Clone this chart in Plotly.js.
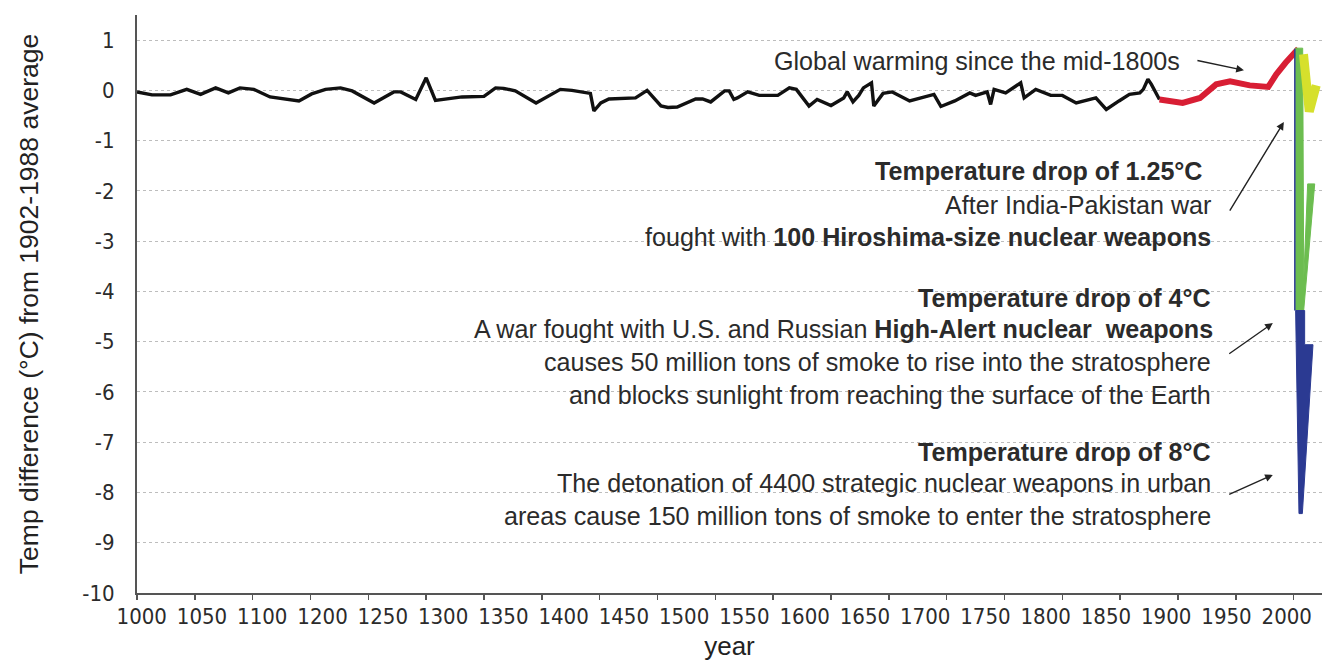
<!DOCTYPE html>
<html><head><meta charset="utf-8">
<script src="https://cdn.plot.ly/plotly-3.0.1.min.js"></script>
<style>html,body{margin:0;padding:0;background:#fff}#chart{width:1322px;height:670px}</style>
</head><body><div id="chart"></div>
<script>
// ---- data ----
const blackYears = [1000,1013,1029,1043,1055,1068,1079,1089,1101,1115,1140,1151,1163,1176,1186,1205,1222,1228,1241,1250,1258,1281,1300,1310,1317,1327,1345,1356,1366,1376,1392,1395,1401,1408,1431,1441,1453,1459,1467,1483,1489,1496,1508,1512,1516,1519,1528,1538,1554,1564,1570,1581,1588,1600,1611,1614,1619,1624,1628,1635,1637,1645,1653,1668,1689,1695,1707,1720,1725,1735,1738,1741,1751,1764,1767,1777,1790,1800,1812,1829,1838,1849,1858,1867,1870,1874,1877,1884];
const blackTemps = [-0.03,-0.09,-0.09,0.02,-0.08,0.05,-0.05,0.05,0.02,-0.13,-0.21,-0.07,0.02,0.05,-0.01,-0.25,-0.03,-0.03,-0.18,0.25,-0.2,-0.13,-0.12,0.05,0.04,-0.01,-0.25,-0.11,0.02,0.0,-0.06,-0.41,-0.25,-0.17,-0.15,0.0,-0.31,-0.34,-0.33,-0.17,-0.17,-0.23,-0.01,-0.01,-0.18,-0.15,-0.03,-0.1,-0.1,0.05,0.02,-0.31,-0.18,-0.3,-0.15,-0.03,-0.23,-0.1,0.05,0.15,-0.31,-0.06,-0.03,-0.21,-0.08,-0.32,-0.21,-0.05,-0.1,-0.03,-0.28,0.02,-0.05,0.15,-0.15,0.02,-0.1,-0.1,-0.25,-0.15,-0.38,-0.21,-0.08,-0.05,0.02,0.22,0.12,-0.18];

const redYears = [1884,1904,1919,1933,1945,1962,1978,1985,1993,2004];
const redTemps = [-0.18,-0.25,-0.15,0.12,0.18,0.1,0.07,0.32,0.55,0.83];

const yellowYears = [2008.5,2013.5,2019.5];
const yellowTemps = [0.72,-0.42,0.1];

const greenYears = [2001.7,2007.8,2008.7,2012.1,2018.2,2008.7,2001.7,2001.7];
const greenTemps = [0.84,0.84,-3.78,-1.86,-1.86,-4.37,-4.37,0.84];

const blueYears = [2001.7,2009.5,2009.5,2016.7,2007.5,2004.6,2001.7];
const blueTemps = [-4.38,-4.38,-5.06,-5.06,-8.42,-8.42,-4.38];

const blueEdgeYears = [2001,2001];
const blueEdgeTemps = [0.83,-4.38];

const xTickLabels = ['1000','1050','1100','1200','1250','1300','1350','1400','1450','1500','1550','1600','1650','1700','1750','1800','1850','1900','1950','2000'];
const xTickMarks = [1000,1050,1100,1150,1200,1250,1300,1350,1400,1450,1500,1550,1600,1650,1700,1750,1800,1850,1900,1950,2000];
const yTickVals = [-10,-9,-8,-7,-6,-5,-4,-3,-2,-1,0,1];
const yTickText = ['-10','-9','-8','-7','-6','-5','-4','-3','-2','-1','0','1'];

const noteLines = [
  'Global warming since the mid-1800s',
  '<b>Temperature drop of 1.25°C</b>',
  'After India-Pakistan war',
  'fought with <b>100 Hiroshima-size nuclear weapons</b>',
  '<b>Temperature drop of 4°C</b>',
  'A war fought with U.S. and Russian <b>High-Alert nuclear  weapons</b>',
  'causes 50 million tons of smoke to rise into the stratosphere',
  'and blocks sunlight from reaching the surface of the Earth',
  '<b>Temperature drop of 8°C</b>',
  'The detonation of 4400 strategic nuclear weapons in urban',
  'areas cause 150 million tons of smoke to enter the stratosphere'
];

// ---- layout helpers (positions / styles) ----
const labelStart = 1004.1, labelStep = 52.1;
const xLabelPos = xTickLabels.map((_, i) => labelStart + labelStep * i);
const noteX = [1903.4,1923.3,1930.2,1930.2,1930.2,1932,1930.2,1930.2,1930.2,1930.2,1930.2];
const noteY = [0.58,-1.60,-2.28,-2.92,-4.13,-4.75,-5.40,-6.06,-7.19,-7.81,-8.47];
const arrows = [
  {x:1957, y:0.40, ax:1915.5, ay:0.60},
  {x:1991.5, y:-0.63, ax:1944, ay:-2.42},
  {x:1982, y:-4.63, ax:1943, ay:-5.26},
  {x:1982, y:-7.65, ax:1943, ay:-8.05}
];

const FONT = 'Liberation Sans, Arial, sans-serif';
const NARROW = 'Liberation Sans Narrow, Arial Narrow, DejaVu Sans Condensed, Liberation Sans, sans-serif';
const TXT = '#2b2b2b';

const traces = [
  {x: blackYears, y: blackTemps, mode: 'lines', line: {color: '#111', width: 3.4}, hoverinfo: 'skip'},
  {x: redYears, y: redTemps, mode: 'lines', line: {color: '#d81e34', width: 6}, hoverinfo: 'skip'},
  {x: greenYears, y: greenTemps, mode: 'lines', fill: 'toself', fillcolor: '#6cbd50', line: {color: '#6cbd50', width: 1}, hoverinfo: 'skip'},
  {x: yellowYears, y: yellowTemps, mode: 'lines', line: {color: '#d6e02c', width: 9}, hoverinfo: 'skip'},
  {x: blueEdgeYears, y: blueEdgeTemps, mode: 'lines', line: {color: '#2d3b94', width: 1.5}, hoverinfo: 'skip'},
  {x: blueYears, y: blueTemps, mode: 'lines', fill: 'toself', fillcolor: '#2b3a92', line: {color: '#2b3a92', width: 1}, hoverinfo: 'skip'},
  {x: [1500], y: [-20], xaxis: 'x2', mode: 'markers', marker: {opacity: 0}, hoverinfo: 'skip'}
];

const annotations = noteLines.map((t, i) => ({
  text: t, x: noteX[i], y: noteY[i], xref: 'x', yref: 'y',
  xanchor: 'right', yanchor: 'middle', showarrow: false,
  font: {family: FONT, size: 25.1, color: TXT}
}));
arrows.forEach(a => annotations.push({
  text: '', x: a.x, y: a.y, ax: a.ax, ay: a.ay, xref: 'x', yref: 'y', axref: 'x', ayref: 'y',
  showarrow: true, arrowhead: 2, arrowsize: 1.1, arrowwidth: 1.4, arrowcolor: '#222', standoff: 0, startstandoff: 0
}));

const layout = {
  width: 1322, height: 670,
  margin: {l: 137, r: 0, t: 15, b: 77},
  paper_bgcolor: '#fff', plot_bgcolor: '#fff',
  showlegend: false,
  font: {family: FONT, color: TXT},
  xaxis: {
    range: [1000, 2024.5], autorange: false,
    tickvals: xTickMarks, showticklabels: false,
    ticks: 'outside', ticklen: 5, tickwidth: 1.5, tickcolor: '#555',
    showgrid: false, zeroline: false,
    showline: true, linecolor: '#555', linewidth: 2,
    title: {text: 'year', font: {family: FONT, size: 26, color: '#222'}, standoff: 38}
  },
  xaxis2: {
    overlaying: 'x', matches: 'x', anchor: 'y', side: 'bottom',
    range: [1000, 2024.5], autorange: false,
    tickvals: xLabelPos, ticktext: xTickLabels,
    ticks: '', showline: false, showgrid: false, zeroline: false,
    tickfont: {family: NARROW, size: 22, color: TXT}, ticklabelstandoff: 8
  },
  yaxis: {
    range: [-10, 1.5], autorange: false,
    tickvals: yTickVals, ticktext: yTickText,
    tickfont: {family: NARROW, size: 22, color: TXT},
    ticks: '', ticklabelstandoff: 16,
    showgrid: true, gridcolor: '#bdbdbd', gridwidth: 1, griddash: 'dot',
    zeroline: false,
    showline: true, linecolor: '#555', linewidth: 2,
    title: {text: 'Temp difference (°C) from 1902-1988 average', font: {family: FONT, size: 26.5, color: '#222'}, standoff: 36}
  },
  annotations: annotations
};

Plotly.newPlot('chart', traces, layout, {displayModeBar: false, staticPlot: true});
</script>
</body></html>
